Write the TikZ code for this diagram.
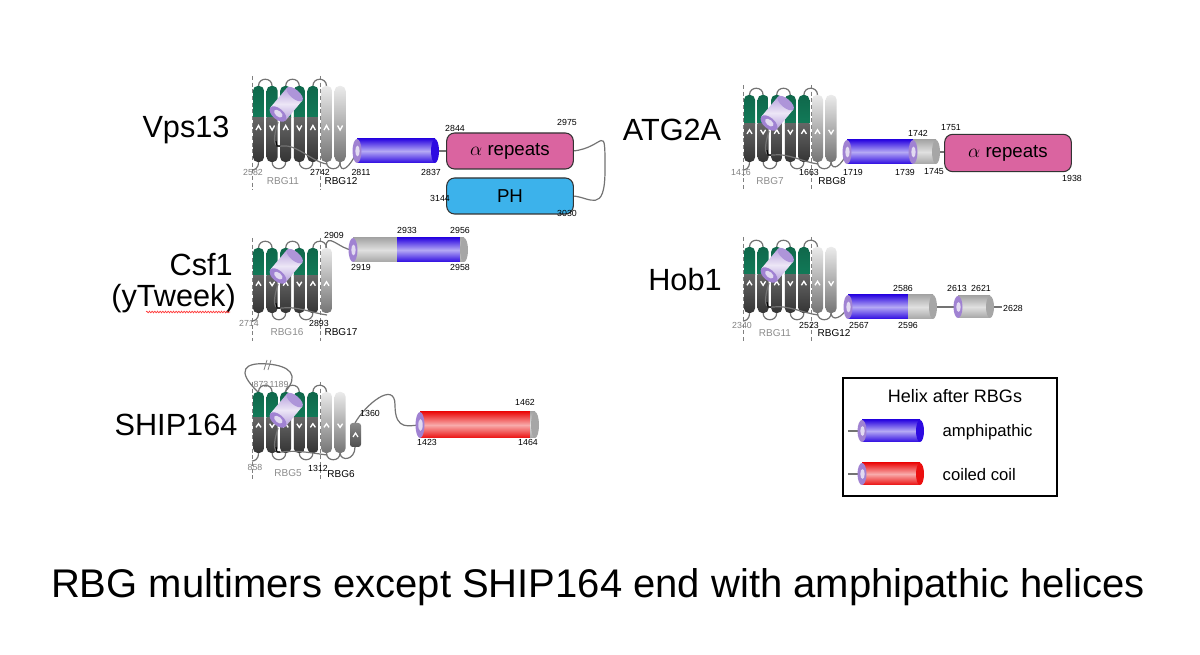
\documentclass[tikz,border=0pt]{standalone}
\usepackage{fontspec}
\setmainfont{Liberation Sans}
\usetikzlibrary{decorations.pathmorphing}
\definecolor{sgreen}{RGB}{18,122,88}
\definecolor{hblue}{RGB}{45,10,225}
\definecolor{hred}{RGB}{235,15,15}
\definecolor{apink}{RGB}{218,100,160}
\definecolor{phblue}{RGB}{60,178,235}
\definecolor{cpurp}{RGB}{160,130,210}
\tikzset{
 tether/.style={draw=black!55,line width=0.9pt},
 num/.style={font=\fontsize{6.6}{7}\selectfont,inner sep=0pt},
 gnum/.style={num,text=black!50},
 rbgl/.style={font=\fontsize{7.5}{8}\selectfont,inner sep=0pt},
 grbgl/.style={rbgl,text=black!45},
 pname/.style={font=\fontsize{23}{24}\selectfont,inner sep=0pt},
 dom/.style={draw=black!80,line width=0.8pt,rounded corners=6pt},
}
\newcommand{\mystrand}[4]{%
 \begin{scope}
 \clip[rounded corners=3.5pt] (#1-5.5,0) rectangle (#1+5.5,#2);
 \ifnum#3=0
  \shade[top color=sgreen!85!black,bottom color=sgreen] (#1-6,0) rectangle (#1+6,0.42*#2);
  \shade[top color=black!60,bottom color=black!80] (#1-6,0.42*#2) rectangle (#1+6,#2+1);
 \else
  \shade[top color=black!8,bottom color=black!55] (#1-6,0) rectangle (#1+6,#2+1);
 \fi
 \end{scope}
 \ifnum#4=0
  \draw[white,line width=1pt] (#1-2.5,0.58*#2)--(#1,0.52*#2)--(#1+2.5,0.58*#2);
 \else
  \draw[white,line width=1pt] (#1-2.5,0.52*#2)--(#1,0.58*#2)--(#1+2.5,0.52*#2);
 \fi
}
\newcommand{\myrbg}[4]{%
 \begin{scope}[shift={(#1,#2)}]
  \draw[black!50,densely dashed,line width=0.5pt] (0,-10)--(0,#3+28);
  \draw[black!50,densely dashed,line width=0.5pt] (68.5,-10)--(68.5,#3+28);
  \pgfmathtruncatemacro{\nn}{5+#4-2}
  \foreach \i in {0,...,\nn}{
   \pgfmathsetmacro{\xa}{6.5+13.6*\i}
   \pgfmathsetmacro{\xb}{6.5+13.6*(\i+1)}
   \ifodd\i
    \draw[tether] (\xa,#3) .. controls (\xa,#3+9) and (\xb,#3+9) .. (\xb,#3);
   \else
    \draw[tether] (\xa,0) .. controls (\xa,-9) and (\xb,-9) .. (\xb,0);
   \fi
  }
  \draw[tether] (6.5,#3) .. controls (6.5,#3+7) and (2,#3+8) .. (0,#3+8);
  \foreach \i in {0,...,4}{
   \pgfmathsetmacro{\xa}{6.5+13.6*\i}
   \pgfmathtruncatemacro{\ch}{mod(\i,2)}
   \mystrand{\xa}{#3}{0}{\ch}
  }
  \ifnum#4>0
   \mystrand{74.5}{#3}{1}{0}
  \fi
  \ifnum#4>1
   \mystrand{88.1}{#3}{1}{1}
  \fi
  \draw[tether] (26,36) .. controls (20,55) and (22,62) .. (30,60) .. controls (45,58) and (60,#3) .. (75,#3+2);
  \draw[black,line width=0.8pt] (24,55)--(25,60)--(28,60);
  \begin{scope}[shift={(26,28)},rotate=50]
   \shade[top color=cpurp!75,bottom color=cpurp!75,middle color=white!80!cpurp] (0,-10) rectangle (26,10);
   \fill[cpurp!85] (26,0) ellipse [x radius=4.5, y radius=10];
   \fill[cpurp] (0,0) ellipse [x radius=5.5, y radius=10];
   \fill[white!70!cpurp] (0.5,0) ellipse [x radius=2.8, y radius=5];
  \end{scope}
 \end{scope}
}
\newcommand{\capend}[3]{%
 \fill[cpurp] (#1,#2) ellipse [x radius=4.5, y radius=#3];
 \fill[white!70!cpurp] (#1+0.5,#2) ellipse [x radius=2.2, y radius=0.45*#3];
}
\newcommand{\hbody}[5]{\shade[top color=#5,bottom color=#5,middle color=white!65!#5] (#1,#3-#4) rectangle (#2,#3+#4);}
\newcommand{\hend}[4]{\fill[#4] (#1,#2) ellipse [x radius=4, y radius=#3];}
\begin{document}
\begin{tikzpicture}[x=0.75pt,y=-0.75pt]
\useasboundingbox (0,0) rectangle (1200,655);
\fill[white] (0,0) rectangle (1200,655);
% ===== Vps13
\node[pname] (vps) at (186,130) {Vps13};
\draw[tether] (340,162) .. controls (340,175) and (350,168) .. (357,151);
\draw[tether] (435,151)--(447,151);
\draw[tether] (573,151) .. controls (605,148) and (605,120) .. (605,170) .. controls (605,215) and (590,197) .. (573,196);
\myrbg{252}{86}{76}{2}
\hbody{357}{435}{151}{12}{hblue}
\hend{435}{151}{12}{hblue}
\capend{357}{151}{12}
\node[dom,fill=apink,minimum width=95pt,minimum height=27pt,font=\fontsize{14}{15}\selectfont] (arep) at (510,151) {$\alpha$ repeats};
\node[dom,fill=phblue,minimum width=95pt,minimum height=27pt,font=\fontsize{14}{15}\selectfont] (ph) at (510,196) {PH};
\node[num] (v1) at (455,128) {2844};
\node[num] (v2) at (567,122) {2975};
\node[num] (v3) at (361,172) {2811};
\node[num] (v4) at (431,172) {2837};
\node[num] (v5) at (440,198) {3144};
\node[num] (v6) at (567,213) {3030};
\node[gnum] (v7) at (253,172) {2582};
\node[grbgl] (v8) at (283,181) {RBG11};
\node[num] (v9) at (320,172) {2742};
\node[rbgl] (v10) at (341,181) {RBG12};
% ===== ATG2A
\node[pname] (atg) at (672,130) {ATG2A};
\draw[tether] (831,162) .. controls (832,172) and (842,166) .. (847,152);
\draw[tether] (937,152)--(945,152);
\myrbg{743}{95}{67}{2}
\hbody{847}{913}{152}{12}{hblue}
\hend{913}{152}{12}{hblue}
\hbody{913}{936}{152}{12}{black!35}
\hend{936}{152}{12}{black!35}
\capend{847}{152}{12}
\capend{913}{152}{12}
\node[dom,fill=apink,minimum width=95pt,minimum height=28pt,font=\fontsize{14}{15}\selectfont] (arep2) at (1008,153) {$\alpha$ repeats};
\node[num] (a1) at (918,133) {1742};
\node[num] (a2) at (951,128) {1751};
\node[num] (a3) at (853,172) {1719};
\node[num] (a4) at (905,172) {1739};
\node[num] (a5) at (934,172) {1745};
\node[num] (a6) at (1072,178) {1938};
\node[gnum] (a7) at (741,172) {1416};
\node[grbgl] (a8) at (770,181) {RBG7};
\node[num] (a9) at (809,172) {1663};
\node[rbgl] (a10) at (832,181) {RBG8};
% ===== Hob1
\node[pname] (hob) at (685,280) {Hob1};
\draw[tether] (831,313) .. controls (832,322) and (842,318) .. (848,307);
\draw[tether] (933,307)--(957,307);
\draw[tether] (990,307)--(1002,307);
\myrbg{743}{247}{66}{2}
\hbody{848}{908}{307}{12}{hblue}
\hbody{908}{933}{307}{12}{black!35}
\hend{933}{307}{12}{black!35}
\capend{848}{307}{12}
\hbody{958}{990}{307}{11}{black!35}
\hend{990}{307}{11}{black!35}
\capend{958}{307}{11}
\node[num] (h1) at (903,288) {2586};
\node[num] (h2) at (908,325) {2596};
\node[num] (h3) at (957,288) {2613};
\node[num] (h4) at (981,288) {2621};
\node[num] (h5) at (1013,308) {2628};
\node[gnum] (h6) at (742,325) {2340};
\node[grbgl] (h7) at (775,333) {RBG11};
\node[num] (h8) at (809,325) {2523};
\node[rbgl] (h9) at (834,333) {RBG12};
\node[num] (h10) at (859,325) {2567};
% ===== Csf1
\node[pname,anchor=east] (csf) at (233,265) {Csf1};
\node[pname,anchor=east] (ytw) at (236,299) {(yTweek)};
\draw[red!80,decorate,decoration={snake,segment length=2pt,amplitude=0.6pt},line width=0.5pt] (146,312)--(230,312);
\draw[tether] (326,248) .. controls (326,230) and (340,250) .. (353,250);
\myrbg{252}{248}{65}{1}
\hbody{353}{397}{250}{12}{black!35}
\hbody{397}{460}{250}{12}{hblue}
\hbody{460}{464}{250}{12}{black!35}
\hend{464}{250}{12}{black!35}
\capend{353}{250}{12}
\node[num] (c1) at (334,235) {2909};
\node[num] (c2) at (407,230) {2933};
\node[num] (c3) at (460,230) {2956};
\node[num] (c4) at (361,267) {2919};
\node[num] (c5) at (460,267) {2958};
\node[gnum] (c6) at (249,323) {2714};
\node[grbgl] (c7) at (287,332) {RBG16};
\node[num] (c8) at (319,323) {2893};
\node[rbgl] (c9) at (341,332) {RBG17};
% ===== SHIP164
\node[pname] (ship) at (176,425) {SHIP164};
\draw[tether] (258,392) .. controls (235,370) and (245,362) .. (268,364) .. controls (290,366) and (300,375) .. (285,392);
\draw[black!50,line width=0.6pt] (264,370)--(267,360) (268,370)--(271,360);
\draw[tether] (355,423) .. controls (365,405) and (395,380) .. (395,405) .. controls (395,432) and (410,425) .. (420,425);
\draw[tether] (340,453) .. controls (341,462) and (355,460) .. (355,447);
\myrbg{252}{392}{61}{2}
\begin{scope}
 \clip[rounded corners=2pt] (350,423) rectangle (361,447);
 \shade[top color=black!45,bottom color=black!70] (349,422) rectangle (362,448);
\end{scope}
\draw[white,line width=0.9pt] (353,437)--(355.5,433)--(358,437);
\hbody{420}{530}{425}{13}{hred}
\hbody{530}{535}{425}{13}{black!35}
\hend{535}{425}{13}{black!35}
\capend{420}{425}{13}
\node[num] (s1) at (370,413) {1360};
\node[num] (s2) at (525,402) {1462};
\node[num] (s3) at (528,442) {1464};
\node[num] (s4) at (427,442) {1423};
\node[gnum] (s5) at (261,384) {873};
\node[gnum] (s6) at (279,384) {1189};
\node[gnum] (s7) at (255,467) {858};
\node[grbgl] (s8) at (288,473) {RBG5};
\node[num] (s9) at (318,468) {1312};
\node[rbgl] (s10) at (341,474) {RBG6};
% ===== legend
\node[draw=black,line width=1.3pt,minimum width=160pt,minimum height=89pt,inner sep=0pt] (leg) at (950,437) {};
\node[font=\fontsize{13.5}{14}\selectfont] (lt) at (955,396) {Helix after RBGs};
\draw[tether] (848,431)--(862,431);
\hbody{862}{920}{431}{11}{hblue}
\hend{920}{431}{11}{hblue}
\capend{862}{431}{11}
\node[font=\fontsize{12.5}{13}\selectfont,anchor=west] (l1) at (938,432) {amphipathic};
\draw[tether] (848,474)--(862,474);
\hbody{862}{920}{474}{11}{hred}
\hend{920}{474}{11}{hred}
\capend{862}{474}{11}
\node[font=\fontsize{12.5}{13}\selectfont,anchor=west] (l2) at (938,475) {coiled coil};
% ===== caption
\node[font=\fontsize{30}{32}\selectfont] (cap) at (598,587) {RBG multimers except SHIP164 end with amphipathic helices};
\end{tikzpicture}
\end{document}
